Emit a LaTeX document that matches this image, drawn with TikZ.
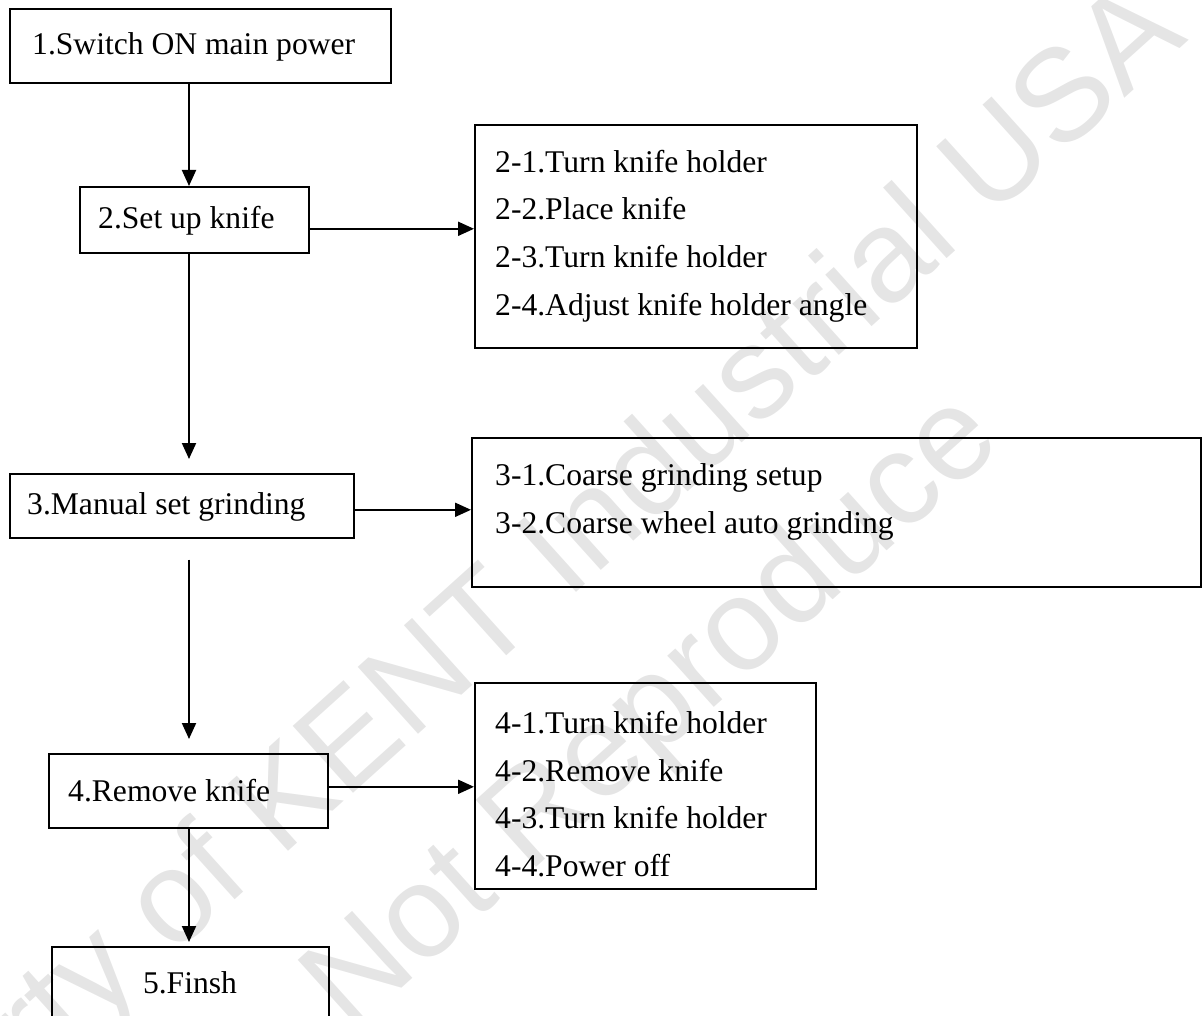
\documentclass[tikz,border=0pt]{standalone}
\usepackage{fontspec}
\setmainfont{Liberation Serif}
\newfontfamily\wmfont{Liberation Sans}
\usetikzlibrary{arrows.meta}
\begin{document}
\begin{tikzpicture}[x=1pt,y=-1pt,
  box/.style={draw=black, line width=1.6pt, rectangle, inner sep=0pt, anchor=north west},
  lbl/.style={anchor=west, inner sep=0pt, align=left, font=\fontsize{31.6}{47.7}\selectfont},
  conn/.style={line width=2pt, -{Triangle[length=16pt,width=14pt]}},
  wm/.style={text=black!10, font=\wmfont\fontsize{131}{157}\selectfont, rotate=42, inner sep=0pt}]
\clip (0,0) rectangle (1202,1016);
\useasboundingbox (0,0) rectangle (1202,1016);
% watermark
\node[wm, anchor=base east] (wm1) at (1190,40) {Property of KENT Industrial USA};
\node[wm, anchor=base east] (wm2) at (1005,445) {Not Reproduce};
% boxes
\node[box, minimum width=381, minimum height=74] (b1) at (9,8) {};
\node[box, minimum width=229, minimum height=66] (b2) at (79,186) {};
\node[box, minimum width=442, minimum height=223] (b2x) at (474,124) {};
\node[box, minimum width=344, minimum height=64] (b3) at (9,473) {};
\node[box, minimum width=729, minimum height=149] (b3x) at (471,437) {};
\node[box, minimum width=279, minimum height=74] (b4) at (48,753) {};
\node[box, minimum width=341, minimum height=206] (b4x) at (474,682) {};
\node[box, minimum width=277, minimum height=110] (b5) at (51,946) {};
% texts
\node[lbl] (t1) at (32,47) {1.Switch ON main power};
\node[lbl] (t2) at (98,221) {2.Set up knife};
\node[lbl] (t2x) at (495,236) {2-1.Turn knife holder\\2-2.Place knife\\2-3.Turn knife holder\\2-4.Adjust knife holder angle};
\node[lbl] (t3) at (27,507) {3.Manual set grinding};
\node[lbl] (t3x) at (495,502) {3-1.Coarse grinding setup\\3-2.Coarse wheel auto grinding};
\node[lbl] (t4) at (68,791) {4.Remove knife};
\node[lbl] (t4x) at (495,794) {4-1.Turn knife holder\\4-2.Remove knife\\4-3.Turn knife holder\\4-4.Power off};
\node[lbl, anchor=center] (t5) at (190,983) {5.Finsh};
% connectors
\coordinate (spine) at (189,0);
\draw[conn] (spine |- b1.south) -- (spine |- b2.north);
\draw[conn, shorten >=14pt] (spine |- b2.south) -- (spine |- b3.north);
\draw[conn, shorten <=21pt, shorten >=14pt] (spine |- b3.south) -- (spine |- b4.north);
\draw[conn, shorten >=4pt] (spine |- b4.south) -- (spine |- b5.north);
\draw[conn] ([yshift=-9pt]b2.east) -- ([yshift=-9pt]b2.east -| b2x.west);
\draw[conn] ([yshift=-4pt]b3.east) -- ([yshift=-4pt]b3.east -| b3x.west);
\draw[conn] ([yshift=4pt]b4.east) -- ([yshift=4pt]b4.east -| b4x.west);
\end{tikzpicture}
\end{document}
